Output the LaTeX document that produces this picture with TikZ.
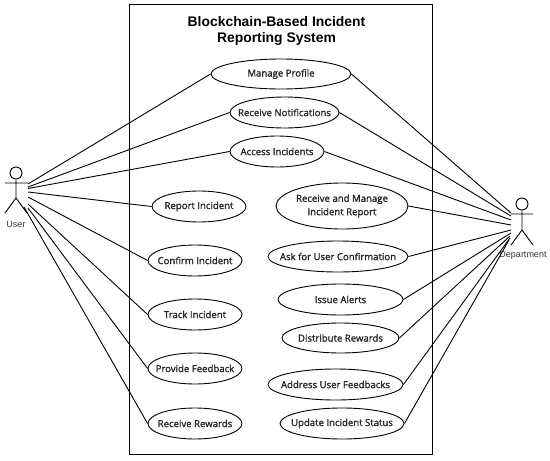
\documentclass[tikz,border=0pt]{standalone}
\usepackage{fontspec}
\setmainfont{Open Sans}
\newfontfamily\titlefont{Liberation Sans}
\newfontfamily\ucfont[FakeBold=1.6]{Open Sans}
\usetikzlibrary{shapes.geometric}
\newcommand{\ucl}[1]{\makebox[0pt][c]{\raisebox{-0.8pt}{#1}}}
\tikzset{
  uc/.style={draw=black,ellipse,line width=0.9pt,inner sep=0pt,align=center,font=\fontsize{9.6}{13.4}\selectfont\ucfont\color{black!85}},
  link/.style={draw=black,line width=0.9pt},
  actorline/.style={draw=black,line width=0.9pt},
  actorlabel/.style={font=\fontsize{9}{11}\selectfont\titlefont,text=black!80,inner sep=0pt},
}
\begin{document}
\begin{tikzpicture}[x=1pt,y=-1pt]
\useasboundingbox (0,0) rectangle (550,461);
\node[draw=black,line width=0.9pt,minimum width=303pt,minimum height=450pt,inner sep=0pt] (sys) at (280.5,229) {};
\node[font=\fontsize{13.9}{16.7}\selectfont\bfseries\titlefont,align=center,inner sep=0pt] (title) at (276.5,31) {Blockchain-Based Incident\\Reporting System};
\node[uc,minimum width=140pt,minimum height=30pt] (mp) at (281,74) {\ucl{Manage Profile}};
\node[uc,minimum width=109pt,minimum height=31pt] (rn) at (284.5,112.5) {\ucl{Receive Notifications}};
\node[uc,minimum width=94pt,minimum height=31pt] (ai) at (277,151.5) {\ucl{Access Incidents}};
\node[uc,minimum width=94pt,minimum height=31pt] (ri) at (199,206.5) {\ucl{Report Incident}};
\node[uc,minimum width=94pt,minimum height=31pt] (ci) at (195,260.5) {\ucl{Confirm Incident}};
\node[uc,minimum width=94pt,minimum height=31pt] (ti) at (195,314.5) {\ucl{Track Incident}};
\node[uc,minimum width=94pt,minimum height=31pt] (pf) at (195,368.5) {\ucl{Provide Feedback}};
\node[uc,minimum width=94pt,minimum height=31pt] (rr) at (195,423.5) {\ucl{Receive Rewards}};
\node[uc,minimum width=132pt,minimum height=46pt] (rm) at (342,206) {\ucl{Receive and Manage}\\\ucl{Incident Report}};
\node[uc,minimum width=140pt,minimum height=31pt] (au) at (338,256.5) {\ucl{Ask for User Confirmation}};
\node[uc,minimum width=125pt,minimum height=31pt] (ia) at (340.5,299.5) {\ucl{Issue Alerts}};
\node[uc,minimum width=117pt,minimum height=30pt] (dr) at (340.5,338) {\ucl{Distribute Rewards}};
\node[uc,minimum width=135pt,minimum height=31pt] (af) at (335.5,384.5) {\ucl{Address User Feedbacks}};
\node[uc,minimum width=124pt,minimum height=31pt] (us) at (342,423.5) {\ucl{Update Incident Status}};
% user actor
\node[draw=black,circle,line width=0.9pt,minimum size=12pt,inner sep=0pt] (uh) at (16,173) {};
\coordinate (uhip) at (16,198);
\coordinate (ual) at (5,183);
\coordinate (uar) at (28,183);
\coordinate (ull) at (5,213);
\coordinate (ulr) at (27,213);
\draw[actorline] (uh.south) -- (uhip) (ual) -- (uar) (ull) -- (uhip) -- (ulr);
\node[actorlabel] (ulab) at (16,224) {User};
% department actor
\node[draw=black,circle,line width=0.9pt,minimum size=12pt,inner sep=0pt] (dh) at (522,204) {};
\coordinate (dhip) at (522,230);
\coordinate (dal) at (511,214);
\coordinate (dar) at (533,214);
\coordinate (dll) at (511,245);
\coordinate (dlr) at (533,245);
\draw[actorline] (dh.south) -- (dhip) (dal) -- (dar) (dll) -- (dhip) -- (dlr);
\node[actorlabel] (dlab) at (523,255) {Department};
% user ends
\coordinate (u1) at (28,184);
\coordinate (u2) at (28,187);
\coordinate (u3) at (28,188.5);
\coordinate (u4) at (28,192);
\coordinate (u5) at (28,197);
\coordinate (u6) at (28,204);
\coordinate (u7) at (28,208);
\coordinate (u8) at (24,207);
\draw[link] (u1) -- (mp.west);
\draw[link] (u2) -- (rn.west);
\draw[link] (u3) -- (ai.west);
\draw[link] (u4) -- (ri.west);
\draw[link] (u5) -- (ci.west);
\draw[link] (u6) -- (ti.west);
\draw[link] (u7) -- (pf.west);
\draw[link] (u8) -- (rr.west);
% department ends
\coordinate (d1) at (511,213);
\coordinate (d2) at (511,216);
\coordinate (d3) at (511,220);
\coordinate (d4) at (511,225);
\coordinate (d5) at (511,230);
\coordinate (d6) at (511,233);
\coordinate (d7) at (510,236);
\coordinate (d8) at (510,238);
\coordinate (d9) at (509,240);
\draw[link] (d1) -- (mp.east);
\draw[link] (d2) -- (rn.east);
\draw[link] (d3) -- (ai.east);
\draw[link] (d4) -- (rm.east);
\draw[link] (d5) -- (au.east);
\draw[link] (d6) -- (ia.east);
\draw[link] (d7) -- (dr.east);
\draw[link] (d8) -- (af.east);
\draw[link] (d9) -- (us.east);
\end{tikzpicture}
\end{document}
